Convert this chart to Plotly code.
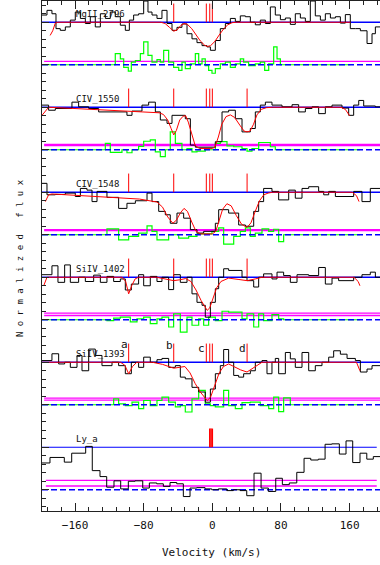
import plotly.graph_objects as go

# ---------------- data ----------------
panel_names = ["MgII_2796", "CIV_1550", "CIV_1548", "SiIV_1402", "SiIV_1393", "Ly_a"]
panel_offsets = [10, 8, 6, 4, 2, 0]
v_min, v_max = -198.5, 195.4

# component marks (km/s)
comp_marks = {
    "MgII_2796": [-45, -7, -3, 0],
    "CIV_1550": [-97.5, -45, -7, -3, 0, 40.5],
    "CIV_1548": [-97.5, -45, -7, -3, 0, 40.5],
    "SiIV_1402": [-97.5, -45, -7, -3, 0, 40.5],
    "SiIV_1393": [-97.5, -45, -7, -3, 0, 40.5],
    "Ly_a": [-3, -1.5, 0],
}
comp_letters = ["a", "b", "c", "d"]
comp_letter_v = [-101.8, -50.5, -12.4, 35.4]
comp_letter_f = [1.41, 1.39, 1.32, 1.32]

# MgII 2796
mg_edges = [-198.5, -192.7, -186.9, -182.2, -177.2, -171.3, -165.5, -159.7, -153.8, -148.0,
            -142.2, -136.4, -130.5, -124.7, -118.9, -113.1, -107.2, -101.4, -96.7, -91.7,
            -85.9, -80.0, -75.0, -70.3, -64.5, -58.7, -52.8, -47.0, -41.2, -35.4,
            -29.5, -23.7, -17.9, -12.0, -6.2, -2.3, 3.5, 9.3, 15.2, 21.0,
            26.8, 32.6, 38.5, 44.3, 50.1, 55.9, 61.8, 67.6, 73.4, 79.3,
            85.1, 90.9, 96.7, 102.6, 108.4, 114.2, 120.0, 125.9, 131.7, 137.6,
            143.4, 149.2, 155.0, 160.8, 166.7, 172.5, 180.3, 186.1, 190.0]
mg_flux = [1.17, 1.28, 1.20, 0.85, 0.81, 0.89, 1.05, 1.24, 1.09, 0.97,
           1.13, 0.89, 1.20, 1.09, 1.24, 1.13, 0.93, 0.81, 1.05, 1.17,
           1.20, 1.50, 1.24, 1.17, 1.09, 1.28, 0.97, 0.81, 0.88, 0.96,
           0.73, 0.61, 0.52, 0.45, 0.42, 0.34, 0.57, 0.85, 0.97, 1.09,
           1.02, 1.15, 1.13, 1.00, 0.94, 1.05, 0.97, 1.36, 1.17, 1.06,
           1.10, 0.95, 1.20, 1.10, 1.02, 1.50, 1.15, 1.05, 1.20, 1.10,
           1.13, 0.98, 1.18, 0.85, 0.85, 0.80, 0.50, 0.73, 0.89]
mg_model_v = [-189, -186, -183, -180, -60, -55, -50, -45, -41, -37, -33, -29, -24, -19, -14,
              -9, -6, -2, 3, 8, 13, 18, 23, 28, 161]
mg_model_f = [0.69, 0.80, 0.98, 1.0, 1.0, 0.97, 0.88, 0.79, 0.82, 0.92, 0.97, 0.95, 0.85, 0.70, 0.56,
              0.46, 0.43, 0.45, 0.55, 0.70, 0.84, 0.94, 0.99, 1.0, 1.0]
mg_resid_edges = [-198.5, -113.1, -107.2, -103.3, -97.9, -94.4, -89.7, -83.9, -80.0, -75.0,
                  -70.3, -64.5, -60.6, -56.7, -50.9, -45.1, -39.2, -35.4, -31.5, -25.6,
                  -19.8, -15.9, -12.0, -8.2, -4.3, -0.4, 3.5, 9.3, 15.2, 21.0,
                  26.8, 32.6, 36.5, 42.3, 50.1, 55.9, 61.0, 65.7, 71.5, 75.4, 79.3]
mg_resid = [0.0, 0.26, 0.14, -0.06, -0.15, 0.06, 0.10, 0.26, 0.54, 0.22,
            0.06, 0.12, 0.06, 0.34, 0.06, -0.06, -0.13, 0.06, -0.09, 0.02,
            0.26, 0.02, 0.14, -0.02, -0.13, -0.20, -0.09, 0.02, 0.06, -0.06,
            0.02, 0.14, 0.06, -0.02, 0.02, 0.06, -0.13, 0.02, 0.42, 0.14, 0.0]
mg_resid_end = 160.8
mg_err = [0.08]

# CIV 1550
c50_edges = [-198.5, -190.8, -183.0, -163.6, -155.8, -144.1, -132.5, -99.5, -93.6, -82.0,
             -74.2, -66.4, -60.6, -52.8, -47.0, -31.5, -25.6, -19.8, 3.5, 11.3,
             19.0, 26.8, 34.6, 44.3, 50.1, 55.9, 61.8, 69.5, 81.2, 92.9,
             100.6, 108.4, 116.2, 123.9, 131.7, 139.5, 151.1, 158.9, 164.7, 170.6,
             176.4, 190.0]
c50_flux = [1.05, 0.93, 0.97, 1.12, 1.01, 0.97, 0.89, 0.81, 0.91, 1.05,
            1.12, 0.89, 0.70, 0.62, 0.81, 0.73, 0.11, 0.06, 0.19, 0.89,
            0.93, 0.73, 0.42, 0.50, 0.89, 1.05, 1.12, 1.05, 1.01, 1.06,
            0.89, 0.97, 1.01, 0.85, 1.01, 1.05, 0.98, 0.81, 1.05, 1.16,
            1.03, 1.01]
c50_model_v = [-198.5, -193, -190.8, -180, -150, -120, -90, -70, -62, -57, -52, -48, -45, -42,
               -38, -34, -31, -28, -24, -20, -15, 0, 3, 7, 11, 16, 21, 26, 32, 37, 40.4,
               44, 48, 52, 57, 63, 70, 150, 155, 160]
c50_model_f = [0.81, 0.93, 1.0, 0.99, 0.96, 0.93, 0.90, 0.88, 0.87, 0.83, 0.70, 0.50, 0.35, 0.45,
               0.70, 0.79, 0.80, 0.65, 0.35, 0.10, 0.03, 0.03, 0.06, 0.30, 0.60, 0.78, 0.82, 0.76,
               0.58, 0.44, 0.42, 0.44, 0.60, 0.82, 0.95, 0.99, 1.0, 1.0, 0.95, 0.80]
c50_resid_edges = [-198.5, -124.7, -118.9, -105.3, -99.5, -93.6, -85.9, -80.0, -72.3, -66.4,
                   -60.6, -54.8, -49.0, -43.1, -35.4, -29.5, -23.7, -17.9, -8.2, 3.5,
                   9.3, 17.1, 24.9, 34.6, 40.4, 46.2, 54.0, 67.6, 73.4]
c50_resid = [0.0, 0.15, -0.06, 0.0, -0.07, 0.0, 0.08, 0.20, 0.23, -0.05,
             -0.16, 0.0, 0.42, 0.15, 0.0, 0.03, -0.05, -0.03, 0.0, 0.15,
             0.19, 0.09, 0.07, 0.03, -0.03, 0.03, 0.17, 0.07, 0.0]
c50_resid_end = 172.0
c50_err = [0.10, 0.125]

# CIV 1548
c48_edges = [-198.5, -192.7, -183.0, -171.3, -159.7, -153.8, -146.1, -140.2, -134.4, -122.8,
             -109.2, -99.5, -89.7, -76.1, -70.3, -62.5, -54.8, -49.0, -41.2, -33.4,
             -25.6, -17.9, -10.1, 3.5, 7.4, 19.0, 30.7, 38.5, 48.2, 54.0,
             59.8, 69.5, 77.3, 89.0, 96.7, 104.5, 112.3, 123.9, 129.8, 135.6,
             143.4, 164.7, 174.4, 184.1]
c48_flux = [1.21, 0.94, 0.95, 0.98, 0.90, 1.09, 1.05, 0.78, 1.02, 0.88,
            0.62, 0.74, 0.80, 0.98, 0.78, 0.55, 0.47, 0.27, 0.51, 0.39,
            0.12, 0.04, 0.08, 0.27, 0.59, 0.51, 0.23, 0.20, 0.55, 0.78,
            1.09, 1.02, 0.82, 1.05, 0.86, 1.09, 1.13, 1.02, 0.94, 1.02,
            0.90, 1.02, 0.78, 1.09]
c48_model_v = [-194.6, -190.8, -187, -170, -140, -110, -85, -64.5, -58, -52, -46, -42, -37, -33,
               -29, -24, -19, -14, 0, 4, 8, 12, 17, 22, 28, 34, 40.4, 45, 50, 55, 60, 65, 70,
               163, 168, 171]
c48_model_f = [0.78, 0.94, 0.96, 0.94, 0.91, 0.87, 0.84, 0.77, 0.65, 0.42, 0.27, 0.34, 0.52, 0.62,
               0.55, 0.30, 0.08, 0.02, 0.02, 0.08, 0.35, 0.60, 0.73, 0.68, 0.45, 0.25, 0.17, 0.28,
               0.55, 0.80, 0.94, 0.98, 1.0, 1.0, 0.92, 0.78]
c48_resid_edges = [-198.5, -122.8, -109.2, -97.5, -85.9, -76.1, -70.3, -64.5, -50.9, -39.2,
                   -27.6, -17.9, -0.4, 7.4, 13.2, 24.9, 32.6, 38.5, 44.3, 50.1,
                   57.9, 65.7, 71.5, 77.3, 83.1]
c48_resid = [0.0, 0.14, -0.12, -0.04, 0.04, 0.21, 0.08, -0.12, 0.0, -0.08,
             -0.04, 0.02, 0.08, 0.16, -0.22, -0.04, 0.08, 0.16, -0.04, 0.04,
             0.14, 0.08, 0.13, -0.16, 0.0]
c48_resid_end = 172.0
c48_err = [0.10, 0.12]

# SiIV 1402
s02_edges = [-198.5, -186.9, -179.9, -172.1, -165.5, -155.8, -148.0, -138.3, -130.5, -122.8,
             -115.0, -107.2, -101.4, -94.4, -85.9, -80.0, -72.3, -64.5, -58.7, -50.9,
             -45.1, -37.3, -29.5, -23.7, -17.9, -12.0, -8.2, -2.3, 3.5, 7.4,
             13.2, 19.0, 34.6, 40.4, 48.2, 54.0, 59.8, 69.5, 75.4, 83.1,
             90.9, 98.7, 112.3, 123.9, 131.7, 139.5, 147.2, 164.7, 174.4, 184.1, 190.0]
s02_flux = [1.06, 1.27, 0.88, 1.29, 0.88, 1.00, 0.90, 1.05, 0.88, 1.02,
            0.90, 0.96, 0.70, 0.84, 1.06, 0.80, 1.02, 0.90, 1.00, 0.71,
            1.06, 0.88, 1.00, 0.61, 0.41, 0.34, 0.06, 0.41, 0.73, 1.00,
            1.20, 1.16, 1.00, 0.92, 0.77, 1.00, 1.08, 0.96, 1.12, 1.04,
            0.88, 1.06, 1.04, 1.23, 0.84, 0.98, 0.92, 1.00, 1.06, 1.12, 1.00]
s02_model_v = [-196.5, -192.7, -105, -101, -97.5, -94, -90, -86, -65, -55, -45, -38, -31, -25,
               -19, -13, -8, -6, -3, 1, 5, 10, 19, 30, 40.4, 50, 57.9, 165, 170, 172]
s02_model_f = [0.80, 1.0, 1.0, 0.90, 0.61, 0.80, 0.96, 1.0, 1.0, 0.96, 0.92, 0.94, 0.97, 0.90,
               0.70, 0.45, 0.30, 0.22, 0.28, 0.50, 0.75, 0.90, 0.98, 0.95, 0.92, 0.96, 1.0, 1.0,
               0.90, 0.80]
s02_resid_edges = [-198.5, -122.8, -115.0, -107.2, -95.6, -87.8, -80.0, -72.3, -64.5, -58.7,
                   -50.9, -45.1, -37.3, -29.5, -23.7, -15.9, -10.1, -4.3, 3.5, 11.3,
                   19.0, 34.6, 40.4, 48.2, 54.0, 59.8, 69.5, 77.3, 83.1]
s02_resid = [0.0, -0.02, 0.04, 0.06, -0.05, 0.02, 0.06, -0.09, 0.02, 0.06,
             -0.17, 0.14, -0.29, 0.06, -0.13, 0.02, -0.13, 0.06, -0.02, 0.20,
             0.18, 0.02, 0.14, -0.17, 0.14, -0.02, 0.12, 0.02, 0.0]
s02_resid_end = 172.0
s02_err = [0.10, 0.155]

# SiIV 1393
s93_edges = [-198.5, -186.9, -179.1, -172.1, -165.5, -157.7, -151.9, -144.1, -136.4, -128.6,
             -116.9, -109.2, -101.4, -94.4, -85.9, -80.0, -72.3, -64.5, -58.7, -50.9,
             -43.1, -37.3, -31.5, -23.7, -15.9, -8.2, -2.3, 3.5, 9.3, 13.2,
             19.0, 24.9, 30.7, 36.5, 44.3, 50.1, 57.9, 63.7, 69.5, 73.4,
             77.3, 85.1, 90.9, 96.7, 104.5, 112.3, 120.0, 127.8, 135.6, 141.4,
             149.2, 157.0, 166.7, 172.5, 180.3, 186.1]
s93_flux = [1.04, 1.20, 0.96, 1.00, 0.88, 1.16, 0.80, 1.31, 1.16, 0.92,
            1.00, 0.92, 0.73, 1.00, 0.88, 1.12, 1.00, 1.06, 1.09, 0.88,
            0.92, 0.65, 0.61, 0.41, 0.30, 0.06, 0.37, 0.73, 0.92, 1.30,
            1.00, 0.69, 0.65, 0.73, 0.80, 1.00, 1.04, 0.73, 1.00, 1.09,
            0.73, 1.23, 1.08, 0.88, 1.23, 0.80, 0.92, 1.00, 1.12, 1.27,
            1.19, 1.09, 1.04, 0.77, 0.84, 0.92]
s93_model_v = [-198.5, -107, -102, -97.5, -93, -88, -70, -58, -45, -40, -32, -26, -20, -14,
               -8, -6, -2, 3, 8, 13, 19, 25, 33, 40.4, 47, 54, 57.9, 168, 172]
s93_model_f = [1.0, 1.0, 0.93, 0.73, 0.90, 1.0, 1.0, 0.95, 0.86, 0.88, 0.90, 0.75, 0.50, 0.30,
               0.15, 0.10, 0.18, 0.45, 0.75, 0.90, 0.96, 0.90, 0.82, 0.77, 0.85, 0.95, 1.0, 1.0,
               0.80]
s93_resid_edges = [-198.5, -115.0, -109.2, -101.4, -93.6, -85.9, -80.0, -72.3, -64.5, -58.7,
                   -50.9, -43.1, -37.3, -31.5, -23.7, -15.9, -8.2, -2.3, 3.5, 13.2,
                   19.0, 26.8, 34.6, 44.3, 55.9, 65.7, 71.5, 77.3, 83.1, 90.9]
s93_resid = [0.0, 0.14, 0.02, -0.02, 0.06, -0.09, 0.10, -0.02, 0.10, 0.18,
             0.06, -0.05, -0.02, -0.17, 0.14, 0.34, 0.02, -0.02, -0.05, 0.34,
             -0.02, -0.09, 0.05, 0.06, -0.02, -0.09, 0.18, -0.16, 0.16, 0.0]
s93_resid_end = 172.0
s93_err = [0.11, 0.155]

# Ly alpha
lya_edges = [-198.5, -189.2, -172.5, -163.9, -147.6, -139.9, -130.9, -123.1, -114.6, -106.8,
             -97.9, -90.1, -81.1, -73.4, -64.8, -57.1, -49.3, -41.5, -33.8, -26.0,
             -18.2, -8.5, -0.7, 7.0, 16.8, 24.5, 32.3, 40.1, 48.6, 56.8,
             65.3, 73.9, 81.6, 89.7, 98.4, 106.9, 114.7, 123.5, 131.4, 139.2,
             148.0, 155.8, 163.6, 172.1, 180.0, 187.6]
lya_flux = [0.63, 0.76, 0.65, 0.86, 1.02, 0.45, 0.31, 0.06, 0.21, 0.02,
            0.20, 0.21, 0.04, 0.16, 0.14, 0.08, 0.17, 0.14, -0.16, 0.04,
            0.05, 0.02, 0.0, 0.02, -0.02, 0.0, -0.02, -0.14, 0.39, 0.04,
            -0.04, 0.27, 0.12, 0.16, 0.41, 0.74, 0.70, 0.72, 1.07, 1.08,
            0.84, 1.15, 0.64, 0.86, 0.72, 0.78]
lya_err = [0.09, 0.22]

spectra = {
    "MgII_2796": (mg_edges, mg_flux),
    "CIV_1550": (c50_edges, c50_flux),
    "CIV_1548": (c48_edges, c48_flux),
    "SiIV_1402": (s02_edges, s02_flux),
    "SiIV_1393": (s93_edges, s93_flux),
    "Ly_a": (lya_edges, lya_flux),
}
models = {
    "MgII_2796": (mg_model_v, mg_model_f),
    "CIV_1550": (c50_model_v, c50_model_f),
    "CIV_1548": (c48_model_v, c48_model_f),
    "SiIV_1402": (s02_model_v, s02_model_f),
    "SiIV_1393": (s93_model_v, s93_model_f),
}
residuals = {
    "MgII_2796": (mg_resid_edges, mg_resid, mg_resid_end),
    "CIV_1550": (c50_resid_edges, c50_resid, c50_resid_end),
    "CIV_1548": (c48_resid_edges, c48_resid, c48_resid_end),
    "SiIV_1402": (s02_resid_edges, s02_resid, s02_resid_end),
    "SiIV_1393": (s93_resid_edges, s93_resid, s93_resid_end),
}
errors = {
    "MgII_2796": mg_err, "CIV_1550": c50_err, "CIV_1548": c48_err,
    "SiIV_1402": s02_err, "SiIV_1393": s93_err, "Ly_a": lya_err,
}

# ---------------- figure ----------------
BLACK = "#000000"
RED = "#ff0000"
BLUE = "#0000ff"
GREEN = "#00ff00"
MAGENTA = "#ff00ff"
MONO = "DejaVu Sans Mono, monospace"

fig = go.Figure()


def add_line(x, y, color, width=1.0, dash=None, shape="linear"):
    fig.add_trace(go.Scatter(x=x, y=y, mode="lines", hoverinfo="skip",
                             line=dict(color=color, width=width, dash=dash, shape=shape)))


for name, off in zip(panel_names, panel_offsets):
    is_lya = name == "Ly_a"
    right = 191.6 if is_lya else v_max
    # continuum
    add_line([v_min, right], [off + 1, off + 1], BLUE, 1.4 if not is_lya else 1.1)
    # error levels
    for lev in errors[name]:
        add_line([-194 if is_lya else -196, right], [off + lev, off + lev], MAGENTA, 1.4)
    # residuals
    if name in residuals:
        e, r, end = residuals[name]
        add_line(e + [end], [off + val for val in r] + [off + r[-1]], GREEN, 1.2, shape="hv")
    # zero level
    add_line([v_min, v_max], [off, off], BLUE, 1.3, dash="6px,3px")
    # spectrum
    e, f = spectra[name]
    add_line(e + [v_max], [off + val for val in f] + [off + f[-1]], BLACK, 1.0, shape="hv")
    # model
    if name in models:
        mv, mf = models[name]
        add_line(mv, [off + val for val in mf], RED, 1.0)
    # component marks
    for cv in comp_marks[name]:
        add_line([cv, cv], [off + 1.0, off + 1.44], RED, 1.5 if is_lya else 1.0)
    # panel label
    fig.add_annotation(x=-161, y=off + 1.2, text=name, showarrow=False, xanchor="left",
                       yanchor="middle", font=dict(family=MONO, size=9, color="#111111"))

# component letters in SiIV 1393 panel
for lt, lv, lf in zip(comp_letters, comp_letter_v, comp_letter_f):
    fig.add_annotation(x=lv, y=2 + lf, text=lt, showarrow=False, xanchor="center",
                       yanchor="middle", font=dict(family=MONO, size=11, color="#111111"))

fig.add_annotation(xref="paper", yref="paper", x=0.5, y=-0.0804, text="Velocity (km/s)",
                   showarrow=False, xanchor="center", yanchor="middle",
                   font=dict(family=MONO, size=11, color="#111111"))
fig.add_annotation(xref="paper", yref="paper", x=-0.065, y=0.496,
                   text="N o r m a l i z e d   f l u x", textangle=-90,
                   showarrow=False, xanchor="center", yanchor="middle",
                   font=dict(family=MONO, size=9, color="#111111"))

fig.update_layout(
    width=380, height=565,
    margin=dict(l=42, r=0, t=1, b=54),
    paper_bgcolor="white", plot_bgcolor="white",
    showlegend=False,
    xaxis=dict(range=[v_min, v_max], showgrid=False, zeroline=False,
               showline=True, linecolor="#222222", linewidth=1, mirror="allticks",
               ticks="inside", tick0=0, dtick=80, ticklen=8, tickcolor="#222222",
               minor=dict(dtick=16, tick0=0, ticklen=4, ticks="inside", tickcolor="#222222"),
               tickfont=dict(family=MONO, size=11, color="#111111"),
               ticklabelstandoff=4),
    yaxis=dict(range=[-0.5, 11.5], showgrid=False, zeroline=False,
               showline=True, linecolor="#222222", linewidth=1, mirror=False,
               ticks="inside", tick0=0, dtick=1, ticklen=7, tickcolor="#222222",
               minor=dict(dtick=0.2, tick0=0, ticklen=4, ticks="inside", tickcolor="#222222"),
               showticklabels=False),
)

fig.write_html("out.html", config={"displayModeBar": False, "staticPlot": True},
               post_script="document.body.style.margin='0';document.body.style.overflow='hidden';")
